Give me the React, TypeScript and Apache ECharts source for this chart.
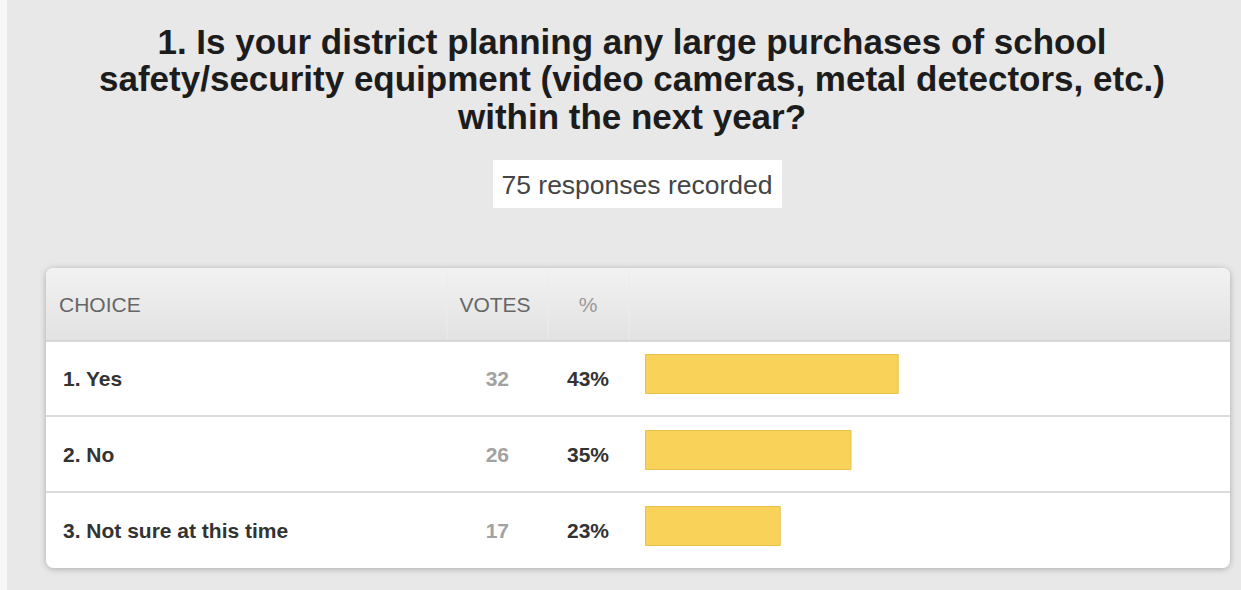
import React, { useEffect, useRef } from "react";
import * as echarts from "echarts";

const titleLines = [
  "1. Is your district planning any large purchases of school",
  "safety/security equipment (video cameras, metal detectors, etc.)",
  "within the next year?",
];
const subtitle = "75 responses recorded";
const headers = ["CHOICE", "VOTES", "%"];
const choices = ["1. Yes", "2. No", "3. Not sure at this time"];
const votes = [32, 26, 17];
const percents = [43, 35, 23];

const FONT = "'Liberation Sans', Arial, Helvetica, sans-serif";

export default function App() {
  const ref = useRef<HTMLDivElement>(null);
  useEffect(() => {
    if (!ref.current) return;
    const chart = echarts.init(ref.current, undefined, { renderer: "svg" });
    const gridLeft = 645;
    const axisCommon = {
      type: "category" as const,
      inverse: true,
      axisLine: { show: false },
      axisTick: { show: false },
      splitLine: { show: false },
      position: "left" as const,
    };
    const option = {
      animation: false,
      backgroundColor: "#e8e8e8",
      textStyle: { fontFamily: FONT },
      grid: [
        { left: gridLeft, top: 340, width: 590, height: 228, containLabel: false },
        { left: gridLeft, top: 336, width: 590, height: 228, containLabel: false },
      ],
      xAxis: [
        { type: "value", gridIndex: 0, min: 0, max: 100, show: false },
        { type: "value", gridIndex: 1, min: 0, max: 100, show: false },
      ],
      yAxis: [
        {
          ...axisCommon,
          gridIndex: 0,
          data: choices,
          axisLabel: {
            align: "left",
            margin: gridLeft - 63,
            fontSize: 21,
            fontWeight: "bold",
            color: "#333333",
            fontFamily: FONT,
          },
        },
        {
          ...axisCommon,
          gridIndex: 0,
          data: votes.map(String),
          offset: gridLeft - 509,
          axisLabel: {
            align: "right",
            margin: 0,
            fontSize: 21,
            fontWeight: "bold",
            color: "#a2a2a2",
            fontFamily: FONT,
          },
        },
        {
          ...axisCommon,
          gridIndex: 0,
          data: percents.map((p) => p + "%"),
          offset: gridLeft - 609,
          axisLabel: {
            align: "right",
            margin: 0,
            fontSize: 21,
            fontWeight: "bold",
            color: "#333333",
            fontFamily: FONT,
          },
        },
        {
          ...axisCommon,
          gridIndex: 1,
          data: choices,
          axisLabel: { show: false },
        },
      ],
      series: [
        {
          type: "bar",
          xAxisIndex: 1,
          yAxisIndex: 3,
          data: percents,
          barWidth: 40,
          itemStyle: { color: "#f9d25a", borderColor: "#e9c04c", borderWidth: 1 },
          z: 5,
        },
      ],
      graphic: [
        { type: "rect", z: -20, shape: { x: 0, y: 0, width: 7, height: 590 }, style: { fill: "#f7f7f7" } },
        ...titleLines.map((t, i) => ({
          type: "text",
          z: 10,
          x: 632,
          y: 41 + i * 37.5,
          style: {
            text: t,
            fontSize: 35,
            fontWeight: "bold",
            fontFamily: FONT,
            fill: "#1c1c1c",
            textAlign: "center",
            textVerticalAlign: "middle",
          },
        })),
        { type: "rect", z: -10, shape: { x: 493, y: 160, width: 289, height: 48 }, style: { fill: "#ffffff" } },
        {
          type: "text",
          z: 10,
          x: 637,
          y: 185,
          style: {
            text: subtitle,
            fontSize: 26.5,
            fontFamily: FONT,
            fill: "#444444",
            textAlign: "center",
            textVerticalAlign: "middle",
          },
        },
        {
          type: "rect",
          z: -10,
          shape: { x: 46, y: 268, width: 1184, height: 300, r: 8 },
          style: {
            fill: "#ffffff",
            shadowBlur: 6,
            shadowColor: "rgba(0,0,0,0.28)",
            shadowOffsetY: 1,
          },
        },
        {
          type: "rect",
          z: -9,
          shape: { x: 46, y: 268, width: 1184, height: 73, r: [8, 8, 0, 0] },
          style: {
            fill: new echarts.graphic.LinearGradient(0, 0, 0, 1, [
              { offset: 0, color: "#f2f2f2" },
              { offset: 1, color: "#e2e2e2" },
            ]),
          },
        },
        ...[447, 548, 629].map((x) => ({
          type: "line",
          z: -8,
          shape: { x1: x, y1: 270, x2: x, y2: 340 },
          style: { stroke: "#ececec", lineWidth: 1 },
        })),
        {
          type: "line",
          z: -8,
          shape: { x1: 46, y1: 341, x2: 1230, y2: 341 },
          style: { stroke: "#cfcfcf", lineWidth: 1.5 },
        },
        ...[416, 492].map((y) => ({
          type: "line",
          z: -8,
          shape: { x1: 46, y1: y, x2: 1230, y2: y },
          style: { stroke: "#dcdcdc", lineWidth: 2 },
        })),
        {
          type: "text",
          z: 10,
          x: 59,
          y: 304,
          style: { text: headers[0], fontSize: 21, fontFamily: FONT, fill: "#666666", textAlign: "left", textVerticalAlign: "middle" },
        },
        {
          type: "text",
          z: 10,
          x: 495,
          y: 304,
          style: { text: headers[1], fontSize: 21, fontFamily: FONT, fill: "#666666", textAlign: "center", textVerticalAlign: "middle" },
        },
        {
          type: "text",
          z: 10,
          x: 588,
          y: 304,
          style: { text: headers[2], fontSize: 21, fontFamily: FONT, fill: "#9a9a9a", textAlign: "center", textVerticalAlign: "middle" },
        },
      ],
    };
    chart.setOption(option as any);
    return () => chart.dispose();
  }, []);
  return (
    <div
      ref={ref}
      style={{ position: "fixed", left: 0, top: 0, width: 1241, height: 590 }}
    />
  );
}
